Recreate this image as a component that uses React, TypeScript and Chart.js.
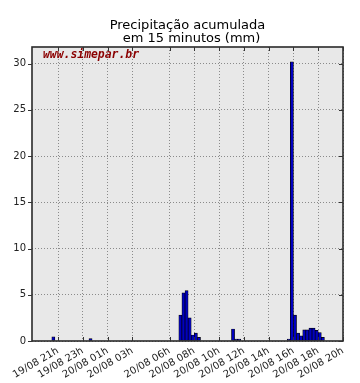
import React, { useEffect, useRef } from "react";
import { Chart, registerables } from "chart.js";

Chart.register(...registerables);

const titleLines = ["Precipitação acumulada", "em 15 minutos (mm)"];
const watermarkText = "www.simepar.br";

// start of each 15-minute accumulation interval
const barStarts = [
  "19/08 20:30", "19/08 23:30",
  "20/08 06:45", "20/08 07:00", "20/08 07:15", "20/08 07:30", "20/08 07:45", "20/08 08:00", "20/08 08:15",
  "20/08 11:00", "20/08 11:15", "20/08 11:30",
  "20/08 15:30", "20/08 15:45", "20/08 16:00", "20/08 16:15", "20/08 16:30", "20/08 16:45",
  "20/08 17:00", "20/08 17:15", "20/08 17:30", "20/08 17:45", "20/08 18:00", "20/08 18:15",
];
const barValues = [
  0.45, 0.25,
  2.8, 5.2, 5.45, 2.5, 0.65, 0.85, 0.4,
  1.3, 0.2, 0.2,
  0.2, 30.2, 2.8, 0.85, 0.55, 1.2,
  1.2, 1.4, 1.4, 1.15, 0.9, 0.4,
];
const tickLabels = [
  "19/08 21h", "19/08 23h", "20/08 01h", "20/08 03h", "20/08 06h", "20/08 08h",
  "20/08 10h", "20/08 12h", "20/08 14h", "20/08 16h", "20/08 18h", "20/08 20h",
];
const xStart = "19/08 18:54";
const xEnd = "20/08 20:00";
const yMax = 31.8;
const yStep = 5;

function toHours(s: string): number {
  const [d, t] = s.split(" ");
  const day = parseInt(d.split("/")[0], 10);
  const m = t.match(/^(\d+)[h:]?(\d*)/) as RegExpMatchArray;
  const h = parseInt(m[1], 10);
  const mi = m[2] ? parseInt(m[2], 10) : 0;
  return (day - 19) * 24 + h + mi / 60;
}

const FONT = '"DejaVu Sans", "Liberation Sans", sans-serif';

export default function App() {
  const ref = useRef<HTMLCanvasElement | null>(null);

  useEffect(() => {
    if (!ref.current) return;
    const tickPos = tickLabels.map(toHours);
    const data = barStarts.map((s, i) => ({ x: toHours(s) + 0.125, y: barValues[i] }));

    const deco = {
      id: "deco",
      beforeDraw(chart: any) {
        const { ctx, chartArea: a } = chart;
        ctx.save();
        ctx.fillStyle = "#e8e8e8";
        ctx.fillRect(a.left, a.top, a.right - a.left, a.bottom - a.top);
        ctx.restore();
      },
      afterDraw(chart: any) {
        const { ctx, chartArea: a } = chart;
        const xs = chart.scales.x;
        const ys = chart.scales.y;
        ctx.save();
        // spines
        ctx.strokeStyle = "#2a2a2a";
        ctx.lineWidth = 1.6;
        ctx.strokeRect(a.left, a.top, a.right - a.left, a.bottom - a.top);
        // tick marks
        ctx.lineWidth = 1;
        ctx.strokeStyle = "#333";
        ctx.beginPath();
        tickPos.forEach((v) => {
          const px = Math.round(xs.getPixelForValue(v)) + 0.5;
          ctx.moveTo(px, a.top);
          ctx.lineTo(px, a.top + 4);
          ctx.moveTo(px, a.bottom);
          ctx.lineTo(px, a.bottom - 4);
        });
        for (let v = 0; v <= yMax; v += yStep) {
          const py = Math.round(ys.getPixelForValue(v)) + 0.5;
          ctx.moveTo(a.left - 4, py);
          ctx.lineTo(a.left, py);
          ctx.moveTo(a.right, py);
          ctx.lineTo(a.right - 4, py);
        }
        ctx.stroke();
        // title
        ctx.fillStyle = "#000";
        ctx.font = "13px " + FONT;
        ctx.textAlign = "center";
        ctx.textBaseline = "alphabetic";
        const cx = (a.left + a.right) / 2;
        ctx.fillText(titleLines[0], cx, 29);
        ctx.fillText(titleLines[1], cx + 4, 41.5);
        // watermark
        ctx.fillStyle = "#8b0000";
        ctx.font = 'italic bold 11.4px "DejaVu Sans Mono", monospace';
        ctx.textAlign = "left";
        ctx.fillText(watermarkText, a.left + 11, a.top + 11);
        ctx.restore();
      },
    };

    const chart = new Chart(ref.current, {
      type: "bar",
      data: {
        datasets: [
          {
            data,
            backgroundColor: "#0000c0",
            borderColor: "#000000",
            borderWidth: 0.7,
            borderSkipped: false,
            barPercentage: 1,
            categoryPercentage: 1,
          },
        ],
      },
      options: {
        animation: false,
        responsive: false,
        devicePixelRatio: 1,
        layout: { padding: { top: 47, right: 17, left: 0, bottom: 0 }, autoPadding: false },
        plugins: {
          legend: { display: false },
          title: { display: false },
          tooltip: { enabled: false },
        },
        scales: {
          x: {
            type: "linear",
            min: toHours(xStart),
            max: toHours(xEnd),
            offset: false,
            grid: { offset: false, color: "#8a8a8a", lineWidth: 1, drawTicks: false },
            border: { display: false, dash: [1, 2] },
            afterBuildTicks: (s: any) => {
              s.ticks = tickPos.map((v) => ({ value: v }));
            },
            afterFit: (s: any) => {
              s.height = 42;
            },
            ticks: {
              autoSkip: false,
              minRotation: 30,
              maxRotation: 30,
              padding: 4,
              color: "#222",
              font: { family: FONT, size: 10 },
              callback: (_v: any, i: number) => tickLabels[i],
            },
          },
          y: {
            min: 0,
            max: yMax,
            grid: { color: "#8a8a8a", lineWidth: 1, drawTicks: false },
            border: { display: false, dash: [1, 2] },
            afterFit: (s: any) => {
              s.width = 32;
            },
            ticks: {
              stepSize: yStep,
              includeBounds: false,
              padding: 6,
              color: "#222",
              font: { family: FONT, size: 10 },
            },
          },
        },
      },
      plugins: [deco],
    } as any);

    return () => chart.destroy();
  }, []);

  return (
    <div style={{ position: "fixed", left: 0, top: 0, width: 360, height: 383, background: "#fff" }}>
      <canvas ref={ref} width={360} height={383} style={{ width: 360, height: 383, display: "block" }} />
    </div>
  );
}
